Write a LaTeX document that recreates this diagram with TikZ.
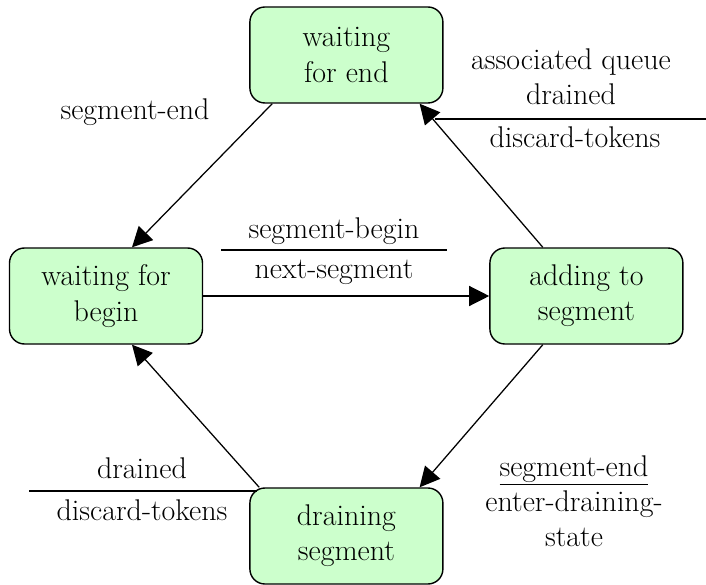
\documentclass[tikz,border=0pt]{standalone}
\usetikzlibrary{arrows.meta}

\definecolor{stategreen}{RGB}{204,255,204}

\tikzset{
    stbox/.style={draw, line width=1pt, fill=stategreen, rounded corners=0.375cm,
        minimum width=4.825cm, minimum height=2.4cm, align=center},
    trans/.style={line width=0.9pt, -{Triangle[length=0.5cm,width=0.5cm]}},
    sep/.style={line width=1.5pt},
    lbl/.style={anchor=base, inner sep=0pt},
    guard/.style={anchor=south, inner sep=0pt, align=center, text depth=0pt}
}

\begin{document}
\begin{tikzpicture}[font=\fontsize{21.3}{25}\selectfont]
        \useasboundingbox (0,0) rectangle (17.65,14.6);

        % states
        \node[stbox] (wend) at (8.66,13.225) {waiting\\for end};
        \node[stbox] (wbegin) at (2.65,7.2) {waiting for\\begin};
        \node[stbox] (adding) at (14.66,7.2) {adding to\\segment};
        \node[stbox] (draining) at (8.66,1.2) {draining\\segment};

        % transitions
        \draw[trans] ([xshift=0.575cm]wend.south west) -- ([xshift=0.65cm]wbegin.north);
        \draw[trans] (wbegin.east) -- (adding.west);
        \draw[trans] ([xshift=-1.09cm]adding.north) -- ([xshift=-0.6cm]wend.south east);
        \draw[trans] ([xshift=-1.09cm]adding.south) -- ([xshift=-0.6cm]draining.north east);
        \draw[trans] ([xshift=0.25cm]draining.north west) -- ([xshift=0.65cm]wbegin.south);

        % labels
        \node[lbl] (endlbl) at (3.375,11.6) {segment-end};

        \node[guard] (queuelbl) at (14.275,11.975) {associated queue\\drained};
        \coordinate (qa) at (10.875,11.625);
        \coordinate (qb) at (17.65,11.625);
        \draw[sep] (qa) -- (qb);
        \node[lbl] (queueact) at (14.375,10.9) {discard-tokens};

        \node[lbl] (beginlbl) at (8.35,8.65) {segment-begin};
        \coordinate (ba) at (5.525,8.35);
        \coordinate (bb) at (11.175,8.35);
        \draw[sep] (ba) -- (bb);
        \node[lbl] (beginact) at (8.35,7.65) {next-segment};

        \node[lbl] (drainlbl) at (3.55,2.65) {drained};
        \coordinate (da) at (0.725,2.325);
        \coordinate (db) at (6.425,2.325);
        \draw[sep] (da) -- (db);
        \node[lbl] (drainact) at (3.55,1.6) {discard-tokens};

        \node[guard] (enterlbl) at (14.35,0.925) {\underline{segment-end}\\enter-draining-\\state};
\end{tikzpicture}
\end{document}
